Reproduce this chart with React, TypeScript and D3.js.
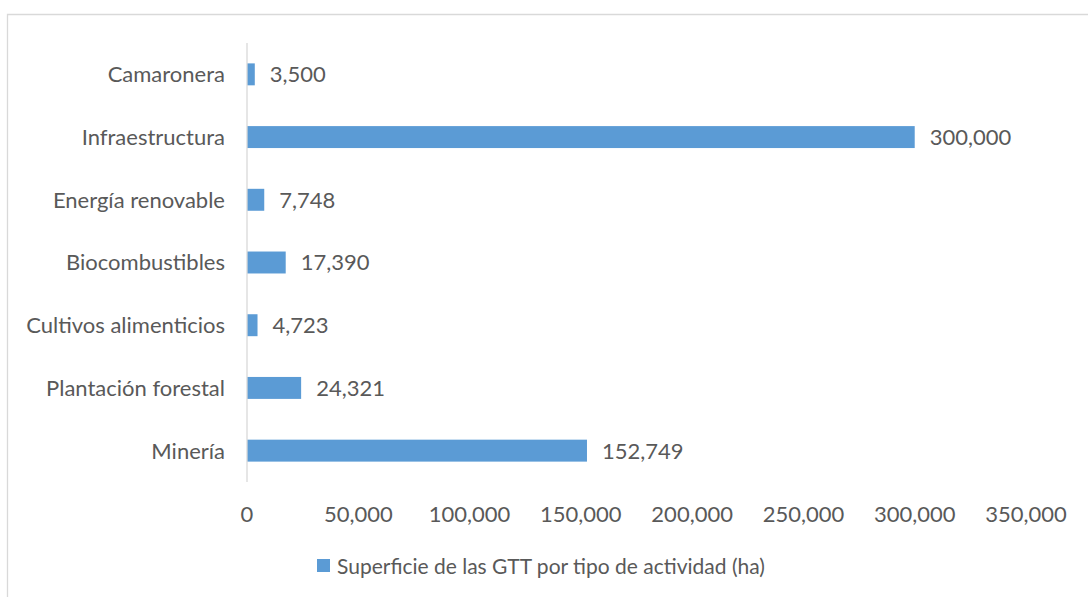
import React from "react";
import * as d3 from "d3";

// data (top to bottom)
const categories = [
  "Camaronera",
  "Infraestructura",
  "Energía renovable",
  "Biocombustibles",
  "Cultivos alimenticios",
  "Plantación forestal",
  "Minería",
];
const values = [3500, 300000, 7748, 17390, 4723, 24321, 152749];
const xTicks = [0, 50000, 100000, 150000, 200000, 250000, 300000, 350000];
const seriesName = "Superficie de las GTT por tipo de actividad (ha)";

const width = 1088;
const height = 597;
const margin = { top: 43, right: 62, bottom: 115, left: 247 };
const barColor = "#5b9bd5";
const textColor = "#595959";
const font = "Lato, 'Open Sans', sans-serif";
const fontSize = 22;

function App() {
  const x = d3
    .scaleLinear()
    .domain([0, 350000])
    .range([margin.left, width - margin.right]);

  const y = d3
    .scaleBand()
    .domain(categories)
    .range([margin.top, height - margin.bottom])
    .paddingInner(0.65)
    .paddingOuter(0.325);

  const fmt = d3.format(",");
  const axisBottom = height - margin.bottom;

  return (
    <svg
      width={width}
      height={height}
      style={{ position: "absolute", left: 0, top: 0, background: "#fff" }}
      fontFamily={font}
    >
      {/* chart frame, cut off at the right and bottom */}
      <path
        d={`M7.5,${height} V14.5 H${width}`}
        fill="none"
        stroke="#d9d9d9"
        strokeWidth={1.3}
      />

      {/* bars */}
      {categories.map((c, i) => (
        <rect
          key={c}
          x={x(0)}
          y={y(c)}
          width={x(values[i]) - x(0)}
          height={y.bandwidth()}
          fill={barColor}
        />
      ))}

      {/* category axis line */}
      <line
        x1={x(0)}
        x2={x(0)}
        y1={margin.top}
        y2={axisBottom}
        stroke="#d9d9d9"
        strokeWidth={1.3}
      />

      {/* category labels */}
      {categories.map((c) => (
        <text
          key={c}
          x={x(0) - 22}
          y={(y(c) as number) + y.bandwidth() / 2}
          dy="0.36em"
          textAnchor="end"
          fontSize={fontSize}
          fill={textColor}
        >
          {c}
        </text>
      ))}

      {/* value labels */}
      {categories.map((c, i) => (
        <text
          key={c}
          x={x(values[i]) + 15}
          y={(y(c) as number) + y.bandwidth() / 2}
          dy="0.36em"
          fontSize={fontSize}
          fill={textColor}
        >
          {fmt(values[i])}
        </text>
      ))}

      {/* x tick labels */}
      {xTicks.map((t) => (
        <text
          key={t}
          x={x(t)}
          y={522}
          textAnchor="middle"
          fontSize={fontSize}
          fill={textColor}
        >
          {fmt(t)}
        </text>
      ))}

      {/* legend */}
      <rect x={317} y={559} width={13} height={13} fill={barColor} />
      <text x={337} y={566} dy="0.36em" fontSize={21} fill={textColor}>
        {seriesName}
      </text>
    </svg>
  );
}

export default App;
